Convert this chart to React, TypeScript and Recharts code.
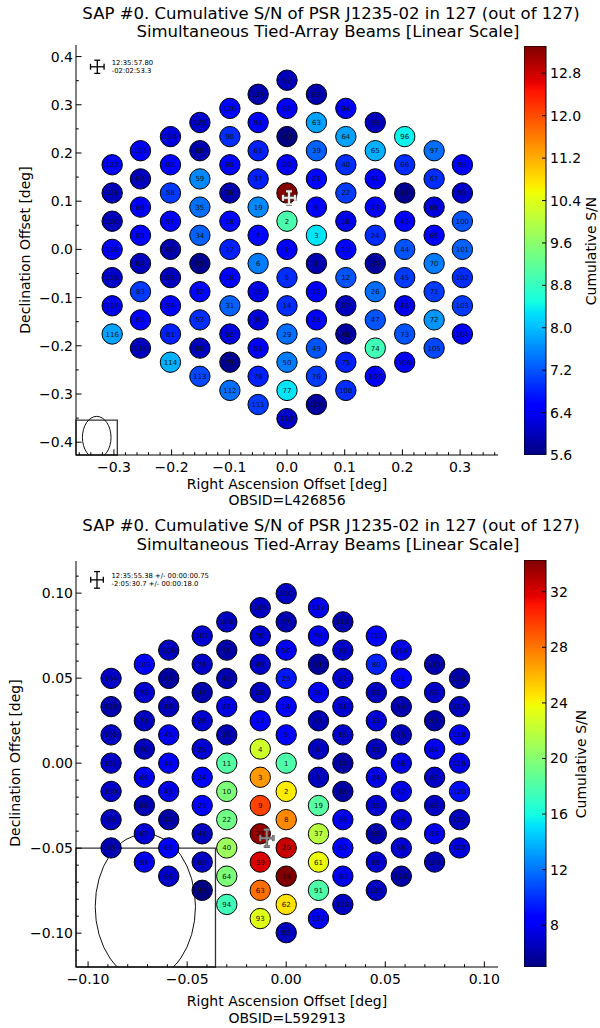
import React from "react";
import {
  ScatterChart,
  Scatter,
  XAxis,
  YAxis,
  ReferenceArea,
  ComposedChart,
  Bar,
} from "recharts";

// ============================================================
// DATA
// ============================================================

// Beam numbers of the hexagonal tied-array grid, one list per column.
// Columns left -> right, beams top -> bottom, as drawn in the first map.
const beamColumns: number[][] = [
  [122, 121, 120, 119, 118, 117, 116],
  [123, 87, 86, 85, 84, 83, 82, 115],
  [124, 88, 58, 57, 56, 55, 54, 81, 114],
  [125, 89, 59, 35, 34, 33, 32, 53, 80, 113],
  [126, 90, 60, 36, 18, 17, 16, 31, 52, 79, 112],
  [127, 91, 61, 37, 19, 7, 6, 15, 30, 51, 78, 111],
  [92, 62, 38, 20, 8, 2, 1, 5, 14, 29, 50, 77, 110],
  [93, 63, 39, 21, 9, 3, 4, 13, 28, 49, 76, 109],
  [94, 64, 40, 22, 10, 11, 12, 27, 48, 75, 108],
  [95, 65, 41, 23, 24, 25, 26, 47, 74, 107],
  [96, 66, 42, 43, 44, 45, 46, 73, 106],
  [97, 67, 68, 69, 70, 71, 72, 105],
  [98, 99, 100, 101, 102, 103, 104],
];

// RA offset [deg] of each column, first map (L426856)
const raColumns1 = [-0.303, -0.254, -0.202, -0.151, -0.099, -0.05, 0, 0.051, 0.102, 0.153, 0.204, 0.255, 0.304];
const decStep1 = 0.0585;

// second map (L592913): same grid turned by 180 deg, columns left -> right
const raColumns2 = [-0.0884, -0.0716, -0.0593, -0.0424, -0.03, -0.0131, 0, 0.0163, 0.0286, 0.0455, 0.0581, 0.0749, 0.0875];
const decStep2 = 0.01662;

// cumulative S/N per beam (index = beam number - 1)
const snr1 = [
  6.4, 9.0, 8.3, 5.9, 6.9, 7.5, 6.6, 13.3, 6.5, 6.3,
  6.5, 7.2, 6.4, 6.9, 6.3, 6.5, 6.8, 6.6, 7.6, 6.4,
  6.6, 7.0, 6.5, 6.9, 5.8, 7.4, 6.0, 6.5, 7.4, 6.2,
  7.3, 6.6, 5.7, 7.3, 7.4, 5.9, 6.8, 5.6, 7.3, 6.9,
  6.4, 5.7, 6.5, 7.2, 7.0, 6.3, 7.2, 5.8, 7.2, 7.5,
  6.4, 6.2, 6.9, 6.4, 6.0, 5.9, 6.4, 7.0, 7.6, 6.5,
  6.8, 6.4, 7.8, 7.8, 7.9, 6.9, 6.9, 6.2, 6.5, 7.5,
  7.0, 7.7, 7.2, 8.9, 6.8, 7.0, 8.3, 6.8, 5.7, 6.0,
  6.8, 6.5, 7.0, 6.0, 6.5, 6.4, 6.0, 6.5, 5.9, 6.9,
  6.4, 6.0, 5.9, 6.4, 6.0, 8.4, 7.4, 6.4, 6.1, 7.2,
  7.3, 6.9, 7.0, 6.4, 7.1, 6.4, 6.4, 6.9, 5.8, 6.1,
  7.0, 7.4, 7.1, 7.9, 6.0, 7.8, 6.3, 6.1, 6.4, 6.0,
  6.0, 6.4, 6.4, 6.2, 6.1, 6.6, 5.9,
];

const snr2 = [
  18.0, 24.3, 26.9, 22.6, 8.2, 6.6, 6.6, 27.4, 29.6, 19.7,
  18.2, 6.3, 8.3, 8.3, 6.3, 6.8, 5.9, 5.9, 18.3, 32.4,
  33.8, 19.3, 8.5, 8.3, 7.1, 7.0, 7.5, 6.6, 9.3, 8.0,
  7.0, 7.2, 6.5, 7.6, 7.0, 7.8, 21.8, 34.3, 32.0, 20.8,
  6.6, 6.0, 7.6, 8.0, 7.8, 6.5, 6.2, 6.2, 6.8, 8.0,
  5.7, 7.0, 6.6, 6.2, 6.5, 7.6, 7.6, 7.2, 6.1, 8.2,
  23.6, 24.6, 28.2, 19.7, 6.7, 8.2, 7.1, 6.3, 7.8, 6.5,
  6.6, 7.0, 5.8, 6.8, 6.0, 7.0, 6.3, 7.8, 6.8, 9.6,
  8.2, 6.8, 6.0, 7.8, 6.8, 6.7, 7.7, 7.1, 7.0, 7.8,
  18.0, 6.6, 23.2, 17.5, 5.0, 6.9, 7.7, 6.3, 6.6, 6.8,
  6.8, 6.7, 6.2, 6.8, 8.3, 6.6, 7.0, 6.7, 6.7, 6.6,
  7.8, 6.2, 8.6, 7.6, 6.2, 6.1, 6.6, 7.8, 7.6, 9.0,
  6.6, 7.4, 6.4, 6.0, 6.7, 6.7, 7.9,
];

// colour scale limits and colorbar ticks
const cbRange1: [number, number] = [5.6, 13.315];
const cbTicks1 = [5.6, 6.4, 7.2, 8.0, 8.8, 9.6, 10.4, 11.2, 12.0, 12.8];
const cbRange2: [number, number] = [5.0, 34.28];
const cbTicks2 = [8, 12, 16, 20, 24, 28, 32];

// axis ticks
const xMajor1 = [-0.3, -0.2, -0.1, 0, 0.1, 0.2, 0.3];
const yMajor1 = [-0.4, -0.3, -0.2, -0.1, 0, 0.1, 0.2, 0.3, 0.4];
const xMajor2 = [-0.1, -0.05, 0, 0.05, 0.1];
const yMajor2 = [-0.1, -0.05, 0, 0.05, 0.1];

// ============================================================
// HELPERS
// ============================================================

const steps = (a: number, b: number, s: number) =>
  Array.from({ length: Math.round((b - a) / s) + 1 }, (_, i) => +(a + i * s).toFixed(4));

// matplotlib "jet"
const JET_R = [[0, 0], [0.35, 0], [0.66, 1], [0.89, 1], [1, 0.5]];
const JET_G = [[0, 0], [0.125, 0], [0.375, 1], [0.64, 1], [0.91, 0], [1, 0]];
const JET_B = [[0, 0.5], [0.11, 1], [0.34, 1], [0.65, 0], [1, 0]];
const JET_KNOTS = [0, 0.11, 0.125, 0.34, 0.35, 0.375, 0.64, 0.65, 0.66, 0.89, 0.91, 1];

function seg(tab: number[][], f: number) {
  for (let i = 1; i < tab.length; i++) {
    if (f <= tab[i][0]) {
      const [x0, y0] = tab[i - 1];
      const [x1, y1] = tab[i];
      return y0 + ((f - x0) / (x1 - x0)) * (y1 - y0);
    }
  }
  return tab[tab.length - 1][1];
}

function jet(f: number) {
  const t = Math.max(0, Math.min(1, f));
  const c = (v: number) => Math.round(v * 255);
  return `rgb(${c(seg(JET_R, t))},${c(seg(JET_G, t))},${c(seg(JET_B, t))})`;
}

const fmt = (digits: number) => (v: number) =>
  (v < -1e-9 ? "\u2212" : "") + Math.abs(v).toFixed(digits);

const isMajor = (majors: number[], v: number) => majors.some((m) => Math.abs(m - v) < 1e-7);

interface Beam {
  ra: number;
  dec: number;
  id: number;
  snr: number;
}

function buildBeams(raCols: number[], decStep: number, snr: number[], turned: boolean): Beam[] {
  const out: Beam[] = [];
  const n = beamColumns.length;
  raCols.forEach((ra, j) => {
    const ids = turned ? [...beamColumns[n - 1 - j]].reverse() : beamColumns[j];
    ids.forEach((id, i) => {
      out.push({ ra, dec: ((ids.length - 1) / 2 - i) * decStep, id, snr: snr[id - 1] });
    });
  });
  return out;
}

// ── axis tick renderers (ticks point inward, matplotlib classic style) ──

const MAJOR_LEN = 5.6;
const MINOR_LEN = 2.8;
const FONT = "'DejaVu Sans', sans-serif";

const bottomTick = (majors: number[], f: (v: number) => string) => (p: any) => {
  const v = p.payload.value;
  const maj = isMajor(majors, v);
  return (
    <g>
      <line x1={p.x} x2={p.x} y1={p.y} y2={p.y - (maj ? MAJOR_LEN : MINOR_LEN)} stroke="#000" />
      {maj && (
        <text x={p.x} y={p.y + 17} textAnchor="middle" fontSize={14} fill="#000" fontFamily={FONT}>
          {f(v)}
        </text>
      )}
    </g>
  );
};

const topTick = (majors: number[]) => (p: any) => {
  const maj = isMajor(majors, p.payload.value);
  return <line x1={p.x} x2={p.x} y1={p.y} y2={p.y + (maj ? MAJOR_LEN : MINOR_LEN)} stroke="#000" />;
};

const leftTick = (majors: number[], f: (v: number) => string) => (p: any) => {
  const v = p.payload.value;
  const maj = isMajor(majors, v);
  return (
    <g>
      <line x1={p.x} x2={p.x + (maj ? MAJOR_LEN : MINOR_LEN)} y1={p.y} y2={p.y} stroke="#000" />
      {maj && (
        <text x={p.x - 3} y={p.y + 5} textAnchor="end" fontSize={14} fill="#000" fontFamily={FONT}>
          {f(v)}
        </text>
      )}
    </g>
  );
};

const rightTick = (majors: number[]) => (p: any) => {
  const maj = isMajor(majors, p.payload.value);
  return <line x1={p.x} x2={p.x - (maj ? MAJOR_LEN : MINOR_LEN)} y1={p.y} y2={p.y} stroke="#000" />;
};

// ── shapes ──

const errorCross = (cx: number, cy: number, hx: number, hy: number, color: string, w: number) => (
  <g stroke={color} strokeWidth={w} fill="none">
    <line x1={cx - hx} x2={cx + hx} y1={cy} y2={cy} />
    <line x1={cx} x2={cx} y1={cy - hy} y2={cy + hy} />
    <line x1={cx - hx} x2={cx - hx} y1={cy - 3} y2={cy + 3} />
    <line x1={cx + hx} x2={cx + hx} y1={cy - 3} y2={cy + 3} />
    <line x1={cx - 3} x2={cx + 3} y1={cy - hy} y2={cy - hy} />
    <line x1={cx - 3} x2={cx + 3} y1={cy + hy} y2={cy + hy} />
  </g>
);

// ============================================================
// PANELS
// ============================================================

interface PanelCfg {
  top: number;
  height: number;
  marginTop: number;
  xAxisH: number;
  beams: Beam[];
  range: [number, number];
  xDomain: [number, number];
  yDomain: [number, number];
  xTicks: number[];
  yTicks: number[];
  xMajor: number[];
  yMajor: number[];
  digits: number;
  box: { x2: number; y2: number };
  ellipse: { ra: number; dec: number; rx: number; ry: number };
  legend: { ra: number; dec: number; hx: number; hy: number; lines: string[] };
  psr: { ra: number; dec: number; hx: number; hy: number; color: string; w: number };
}

const PLOT_W = 422;
const PLOT_H = 410;

const panel1: PanelCfg = {
  top: 0,
  height: 510,
  marginTop: 45,
  xAxisH: 55,
  beams: buildBeams(raColumns1, decStep1, snr1, false),
  range: cbRange1,
  xDomain: [-0.3657, 0.3657],
  yDomain: [-0.4265, 0.424],
  xTicks: steps(-0.36, 0.36, 0.02),
  yTicks: steps(-0.4, 0.4, 0.05),
  xMajor: xMajor1,
  yMajor: yMajor1,
  digits: 1,
  box: { x2: -0.2941, y2: -0.3541 },
  ellipse: { ra: -0.3298, dec: -0.39, rx: 0.0248, ry: 0.0436 },
  legend: { ra: -0.3288, dec: 0.3788, hx: 6.8, hy: 6.6, lines: ["12:35:57.80", "-02:02:53.3"] },
  psr: { ra: 0.0035, dec: 0.107, hx: 6, hy: 6.5, color: "#e6e6e6", w: 2 },
};

const panel2: PanelCfg = {
  top: 510,
  height: 518,
  marginTop: 51,
  xAxisH: 61,
  beams: buildBeams(raColumns2, decStep2, snr2, true),
  range: cbRange2,
  xDomain: [-0.1061, 0.1069],
  yDomain: [-0.1199, 0.1189],
  xTicks: steps(-0.1, 0.1, 0.01),
  yTicks: steps(-0.11, 0.11, 0.01),
  xMajor: xMajor2,
  yMajor: yMajor2,
  digits: 2,
  box: { x2: -0.0357, y2: -0.05 },
  ellipse: { ra: -0.0711, dec: -0.0844, rx: 0.0253, ry: 0.0428 },
  legend: {
    ra: -0.0955,
    dec: 0.1078,
    hx: 6.3,
    hy: 8.3,
    lines: ["12:35:55.38 +/- 00:00:00.75", "-2:05:30.7 +/- 00:00:18.0"],
  },
  psr: { ra: -0.0098, dec: -0.0441, hx: 6.5, hy: 8.5, color: "#8c8c8c", w: 1.5 },
};

function BeamMap({ cfg }: { cfg: PanelCfg }) {
  const pxX = PLOT_W / (cfg.xDomain[1] - cfg.xDomain[0]);
  const plotH = cfg.height - cfg.marginTop - cfg.xAxisH;
  const pxY = plotH / (cfg.yDomain[1] - cfg.yDomain[0]);
  const [vmin, vmax] = cfg.range;
  const f = fmt(cfg.digits);

  return (
    <ScatterChart
      width={520}
      height={cfg.height}
      margin={{ top: cfg.marginTop, right: 22, bottom: 0, left: 0 }}
    >
      <XAxis
        type="number"
        dataKey="ra"
        domain={cfg.xDomain}
        ticks={cfg.xTicks}
        interval={0}
        allowDataOverflow
        height={cfg.xAxisH}
        tickSize={0}
        tickMargin={0}
        tickLine={false}
        axisLine={{ stroke: "#000" }}
        tick={bottomTick(cfg.xMajor, f)}
      />
      <XAxis
        xAxisId="top"
        orientation="top"
        type="number"
        dataKey="ra"
        domain={cfg.xDomain}
        ticks={cfg.xTicks}
        interval={0}
        allowDataOverflow
        height={0}
        tickSize={0}
        tickMargin={0}
        tickLine={false}
        axisLine={{ stroke: "#000" }}
        tick={topTick(cfg.xMajor)}
      />
      <YAxis
        type="number"
        dataKey="dec"
        domain={cfg.yDomain}
        ticks={cfg.yTicks}
        interval={0}
        allowDataOverflow
        width={76}
        tickSize={0}
        tickMargin={0}
        tickLine={false}
        axisLine={{ stroke: "#000" }}
        tick={leftTick(cfg.yMajor, f)}
      />
      <YAxis
        yAxisId="right"
        orientation="right"
        type="number"
        dataKey="dec"
        domain={cfg.yDomain}
        ticks={cfg.yTicks}
        interval={0}
        allowDataOverflow
        width={0}
        tickSize={0}
        tickMargin={0}
        tickLine={false}
        axisLine={{ stroke: "#000" }}
        tick={rightTick(cfg.yMajor)}
      />

      {/* beam-size inset */}
      <ReferenceArea
        x1={cfg.xDomain[0]}
        x2={cfg.box.x2}
        y1={cfg.yDomain[0]}
        y2={cfg.box.y2}
        fill="none"
        fillOpacity={0}
        stroke="#333"
        strokeWidth={1.3}
      />
      <Scatter
        data={[cfg.ellipse]}
        isAnimationActive={false}
        shape={(p: any) => (
          <ellipse
            cx={p.cx}
            cy={p.cy}
            rx={p.payload.rx * pxX}
            ry={p.payload.ry * pxY}
            fill="none"
            stroke="#111"
            strokeWidth={1}
          />
        )}
      />

      {/* tied-array beams */}
      <Scatter
        data={cfg.beams}
        isAnimationActive={false}
        shape={(p: any) => (
          <g>
            <circle
              cx={p.cx}
              cy={p.cy}
              r={10.2}
              fill={jet((p.payload.snr - vmin) / (vmax - vmin))}
              stroke="#000"
              strokeWidth={1}
            />
            <text
              x={p.cx}
              y={p.cy + 2.5}
              textAnchor="middle"
              fontSize={7}
              fill="#111"
              fontFamily={FONT}
            >
              {p.payload.id}
            </text>
          </g>
        )}
      />

      {/* pointing legend */}
      <Scatter
        data={[cfg.legend]}
        isAnimationActive={false}
        shape={(p: any) => (
          <g>
            {errorCross(p.cx, p.cy, p.payload.hx, p.payload.hy, "#000", 1.3)}
            {p.payload.lines.map((s: string, i: number) => (
              <text
                key={i}
                x={p.cx + 14.5}
                y={p.cy - 1.5 + i * 8}
                fontSize={6.8}
                fill="#000"
                fontFamily={FONT}
              >
                {s}
              </text>
            ))}
          </g>
        )}
      />

      {/* pulsar position */}
      <Scatter
        data={[cfg.psr]}
        isAnimationActive={false}
        shape={(p: any) => (
          <g>
            {errorCross(p.cx, p.cy, p.payload.hx, p.payload.hy, "#555", p.payload.w + 1.2)}
            {errorCross(p.cx, p.cy, p.payload.hx, p.payload.hy, p.payload.color, p.payload.w)}
          </g>
        )}
      />
    </ScatterChart>
  );
}

function ColorBar({
  id,
  range,
  ticks,
  digits,
  height,
  marginTop,
  marginBottom,
}: {
  id: string;
  range: [number, number];
  ticks: number[];
  digits: number;
  height: number;
  marginTop: number;
  marginBottom: number;
}) {
  const data = [{ name: "cb", span: range }];
  return (
    <ComposedChart
      width={76}
      height={height}
      data={data}
      margin={{ top: marginTop, right: 0, bottom: marginBottom, left: 0 }}
      barCategoryGap={0}
    >
      <defs>
        <linearGradient id={id} x1="0" y1="1" x2="0" y2="0">
          {JET_KNOTS.map((k) => (
            <stop key={k} offset={k} stopColor={jet(k)} />
          ))}
        </linearGradient>
      </defs>
      <XAxis dataKey="name" hide />
      <YAxis
        orientation="right"
        type="number"
        domain={range}
        ticks={ticks}
        interval={0}
        allowDataOverflow
        width={54}
        tickSize={0}
        tickMargin={0}
        tickLine={false}
        axisLine={false}
        tick={(p: any) => (
          <text x={p.x + 4} y={p.y + 5} fontSize={14} fill="#000" fontFamily={FONT}>
            {p.payload.value.toFixed(digits)}
          </text>
        )}
      />
      <Bar
        dataKey="span"
        isAnimationActive={false}
        shape={(p: any) => (
          <g>
            <rect x={p.x} y={p.y} width={p.width} height={p.height} fill={`url(#${id})`} stroke="#000" strokeWidth={1} />
            {ticks.map((t) => {
              const ty = p.y + p.height - ((t - range[0]) / (range[1] - range[0])) * p.height;
              return <line key={t} x1={p.x + p.width - 4} x2={p.x + p.width} y1={ty} y2={ty} stroke="#000" />;
            })}
          </g>
        )}
      />
    </ComposedChart>
  );
}

const Txt = ({
  x,
  y,
  size,
  rotate,
  children,
}: {
  x: number;
  y: number;
  size: number;
  rotate?: boolean;
  children: React.ReactNode;
}) => (
  <div
    style={{
      position: "absolute",
      left: x,
      top: y,
      transform: `translate(-50%, -50%)${rotate ? " rotate(-90deg)" : ""}`,
      fontSize: size,
      lineHeight: 1,
      whiteSpace: "nowrap",
      color: "#000",
    }}
  >
    {children}
  </div>
);

export default function App() {
  const title1 = "SAP #0. Cumulative S/N of PSR J1235-02 in 127 (out of 127)";
  const title2 = "Simultaneous Tied-Array Beams [Linear Scale]";
  return (
    <div
      style={{
        position: "absolute",
        left: 0,
        top: 0,
        width: 600,
        height: 1028,
        overflow: "hidden",
        background: "#fff",
        fontFamily: FONT,
      }}
    >
      <div style={{ position: "absolute", left: 0, top: panel1.top }}>
        <BeamMap cfg={panel1} />
      </div>
      <div style={{ position: "absolute", left: 524, top: panel1.top }}>
        <ColorBar id="jet1" range={cbRange1} ticks={cbTicks1} digits={1} height={510} marginTop={46} marginBottom={55} />
      </div>
      <div style={{ position: "absolute", left: 0, top: panel2.top }}>
        <BeamMap cfg={panel2} />
      </div>
      <div style={{ position: "absolute", left: 524, top: panel2.top }}>
        <ColorBar id="jet2" range={cbRange2} ticks={cbTicks2} digits={0} height={518} marginTop={50} marginBottom={61} />
      </div>

      {/* first map texts */}
      <Txt x={331} y={13.5} size={16.5}>{title1}</Txt>
      <Txt x={328} y={32} size={16.5}>{title2}</Txt>
      <Txt x={287} y={484} size={14}>Right Ascension Offset [deg]</Txt>
      <Txt x={287} y={500} size={14}>OBSID=L426856</Txt>
      <Txt x={25} y={250} size={14} rotate>Declination Offset [deg]</Txt>
      <Txt x={591} y={250.5} size={14} rotate>Cumulative S/N</Txt>

      {/* second map texts */}
      <Txt x={331} y={526} size={16.5}>{title1}</Txt>
      <Txt x={328} y={544.5} size={16.5}>{title2}</Txt>
      <Txt x={287} y={1000.5} size={14}>Right Ascension Offset [deg]</Txt>
      <Txt x={287} y={1018} size={14}>OBSID=L592913</Txt>
      <Txt x={15} y={763} size={14} rotate>Declination Offset [deg]</Txt>
      <Txt x={581} y={763.5} size={14} rotate>Cumulative S/N</Txt>
    </div>
  );
}
